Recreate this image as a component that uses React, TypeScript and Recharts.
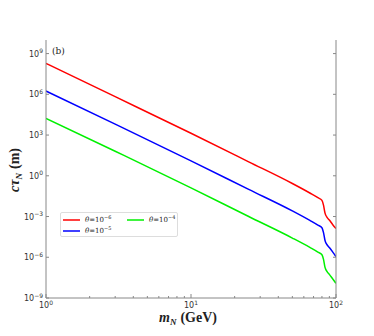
import React from "react";
import { LineChart, Line, XAxis, YAxis } from "recharts";

const masses = [1, 3, 10, 25, 50, 66, 75, 80, 82, 84, 87, 90, 95, 100];
const theta6 = [1.9e8, 6.7e5, 1.35e3, 10.7, 0.27, 0.054, 0.0245, 0.0155, 0.0069, 1.8e-3, 8.3e-4, 5.5e-4, 2.5e-4, 1.3e-4];
const theta5 = [1.75e6, 6.3e3, 12.5, 0.1, 2.6e-3, 5.2e-4, 2.35e-4, 1.5e-4, 6.5e-5, 1.7e-5, 8e-6, 5.2e-6, 2.4e-6, 1.1e-6];
const theta4 = [1.7e4, 64, 0.13, 1.0e-3, 2.6e-5, 5.3e-6, 2.4e-6, 1.52e-6, 7e-7, 1.8e-7, 8.5e-8, 5.5e-8, 2.5e-8, 1.2e-8];

const xMajor = [1, 10, 100];
const xTicks = [1, 2, 3, 4, 5, 6, 7, 8, 9, 10, 20, 30, 40, 50, 60, 70, 80, 90, 100];
const yTicks = [1e-9, 1e-6, 1e-3, 1, 1e3, 1e6, 1e9];
const yExp = ["-9", "-6", "-3", "0", "3", "6", "9"];
const xExp = ["0", "1", "2"];

const data = masses.map((m, i) => ({ m, r: theta6[i], b: theta5[i], g: theta4[i] }));

const FRAME = "#888";
const tickFont = "DejaVu Sans";

const XTick = (props: any) => {
  const { x, y, payload, top } = props;
  const v = payload.value;
  const majorIdx = xMajor.indexOf(v);
  const len = majorIdx >= 0 ? 4 : 2;
  if (top) {
    return <line x1={x} y1={y} x2={x} y2={y + len} stroke={FRAME} strokeWidth={1} />;
  }
  return (
    <g>
      <line x1={x} y1={y} x2={x} y2={y - len} stroke={FRAME} strokeWidth={1} />
      {majorIdx >= 0 && (
        <text x={x} y={y + 10} textAnchor="middle" fontFamily={tickFont} fontSize={8} fill="#333">
          10<tspan dy={-3.5} fontSize={6}>{xExp[majorIdx]}</tspan>
        </text>
      )}
    </g>
  );
};

const YTick = (props: any) => {
  const { x, y, payload, right } = props;
  const idx = yTicks.findIndex((t) => Math.abs(Math.log10(t) - Math.log10(payload.value)) < 1e-6);
  if (right) {
    return <line x1={x} y1={y} x2={x - 3} y2={y} stroke={FRAME} strokeWidth={1} />;
  }
  return (
    <g>
      <line x1={x} y1={y} x2={x + 3} y2={y} stroke={FRAME} strokeWidth={1} />
      <text x={x - 3} y={y + 3} textAnchor="end" fontFamily={tickFont} fontSize={8} fill="#333">
        10<tspan dy={-3.5} fontSize={6}>{idx >= 0 ? yExp[idx].replace("-", "\u2212") : ""}</tspan>
      </text>
    </g>
  );
};

const LegendRow = ({ color, exp }: { color: string; exp: string }) => (
  <div style={{ display: "flex", alignItems: "center", height: 11 }}>
    <svg width={17} height={4} style={{ marginRight: 5, display: "block" }}>
      <line x1={0} y1={2} x2={17} y2={2} stroke={color} strokeWidth={1.5} />
    </svg>
    <span style={{ fontFamily: "DejaVu Serif", fontSize: 7, color: "#222", whiteSpace: "nowrap" }}>
      <i>θ</i>=10<sup style={{ fontSize: 5 }}>{exp}</sup>
    </span>
  </div>
);

export default function App() {
  return (
    <div style={{ position: "absolute", left: 0, top: 0, width: 374, height: 336, background: "#fff" }}>
      <LineChart width={374} height={336} data={data} margin={{ top: 40, right: 0, bottom: 18, left: 0 }}>
        <XAxis
          xAxisId="b"
          dataKey="m"
          type="number"
          scale="log"
          domain={[1, 100]}
          ticks={xTicks}
          interval={0}
          tickSize={0}
          tickMargin={0}
          tick={<XTick />}
          stroke={FRAME}
          height={20}
          allowDataOverflow
        />
        <XAxis
          xAxisId="t"
          orientation="top"
          dataKey="m"
          type="number"
          scale="log"
          domain={[1, 100]}
          ticks={xTicks}
          interval={0}
          tickSize={0}
          tickMargin={0}
          tick={<XTick top />}
          stroke={FRAME}
          height={0}
          allowDataOverflow
        />
        <YAxis
          yAxisId="l"
          type="number"
          scale="log"
          domain={[1e-9, 1e10]}
          ticks={yTicks}
          interval={0}
          tickSize={0}
          tickMargin={0}
          tick={<YTick />}
          stroke={FRAME}
          width={46}
          allowDataOverflow
        />
        <YAxis
          yAxisId="r"
          orientation="right"
          type="number"
          scale="log"
          domain={[1e-9, 1e10]}
          ticks={yTicks}
          interval={0}
          tickSize={0}
          tickMargin={0}
          tick={<YTick right />}
          stroke={FRAME}
          width={38}
          allowDataOverflow
        />
        <Line xAxisId="b" yAxisId="l" dataKey="r" type="monotone" stroke="#ff0000" strokeWidth={1.5} dot={false} isAnimationActive={false} />
        <Line xAxisId="b" yAxisId="l" dataKey="b" type="monotone" stroke="#0000ff" strokeWidth={1.5} dot={false} isAnimationActive={false} />
        <Line xAxisId="b" yAxisId="l" dataKey="g" type="monotone" stroke="#00f000" strokeWidth={1.5} dot={false} isAnimationActive={false} />
      </LineChart>

      <div style={{ position: "absolute", left: 52, top: 46, fontFamily: "DejaVu Serif", fontSize: 9, color: "#222" }}>(b)</div>

      <div
        style={{
          position: "absolute",
          left: 60,
          top: 212,
          width: 118,
          height: 25,
          border: "1px solid #ddd",
          borderRadius: 2,
          background: "#fff",
          boxSizing: "border-box",
          padding: "1px 0 0 2px",
        }}
      >
        <div style={{ display: "flex" }}>
          <div style={{ width: 64 }}>
            <LegendRow color="#ff0000" exp="−6" />
          </div>
          <LegendRow color="#00f000" exp="−4" />
        </div>
        <LegendRow color="#0000ff" exp="−5" />
      </div>

      <div
        style={{
          position: "absolute",
          left: 159,
          top: 311,
          fontFamily: "Liberation Serif",
          fontWeight: "bold",
          fontSize: 14,
          lineHeight: 1,
          color: "#222",
          whiteSpace: "nowrap",
          display: "flex",
          alignItems: "baseline",
        }}
      >
        <span style={{ fontStyle: "italic" }}>m</span>
        <span style={{ fontSize: 9, fontStyle: "italic", position: "relative", top: 3, marginRight: 4 }}>N</span>
        <span>(GeV)</span>
      </div>

      <div
        style={{
          position: "absolute",
          left: 15,
          top: 170,
          transform: "translate(-50%, -50%) rotate(-90deg)",
          fontFamily: "Liberation Serif",
          fontWeight: "bold",
          fontSize: 14,
          lineHeight: 1,
          color: "#222",
          whiteSpace: "nowrap",
          display: "flex",
          alignItems: "baseline",
        }}
      >
        <span style={{ fontStyle: "italic" }}>cτ</span>
        <span style={{ fontSize: 9, fontStyle: "italic", position: "relative", top: 3, marginRight: 4 }}>N</span>
        <span>(m)</span>
      </div>
    </div>
  );
}
